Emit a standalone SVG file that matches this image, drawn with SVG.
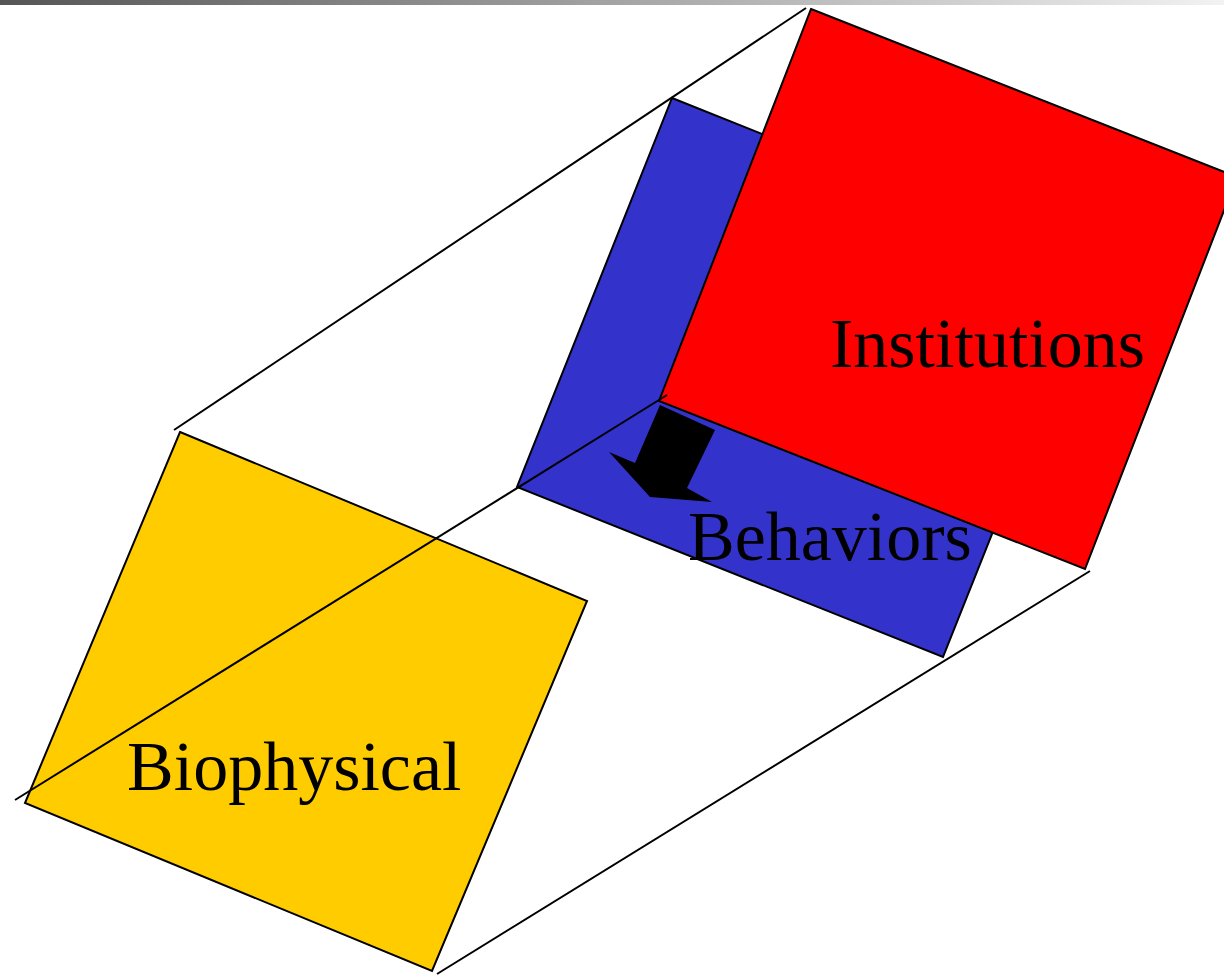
<svg xmlns="http://www.w3.org/2000/svg" width="1224" height="975" viewBox="0 0 1224 975">
<defs>
<linearGradient id="bar" x1="0" y1="0" x2="1" y2="0">
<stop offset="0" stop-color="#555555"/>
<stop offset="1" stop-color="#f2f2f2"/>
</linearGradient>
<style>
.shape{stroke:#000;stroke-width:2;stroke-linejoin:miter}
.ln{stroke:#000;stroke-width:2;fill:none}
.lbl{font-family:"Liberation Serif","Times New Roman",serif;font-size:70px;fill:#000}
</style>
</defs>
<rect x="0" y="0" width="1224" height="975" fill="#fff"/>
<rect x="0" y="0" width="1224" height="5" fill="url(#bar)"/>
<g id="biophysical">
<polygon class="shape" fill="#ffcc00" points="180,432 587,601 432,971 25,803"/>
</g>
<g id="behaviors">
<polygon class="shape" fill="#3333cc" points="672,98 1098,268 943,657 517,487"/>
</g>
<g id="institutions">
<polygon class="shape" fill="#ff0000" points="811,9 1237,177 1085,569 659,401"/>
</g>
<g id="connectors">
<line class="ln" x1="174" y1="430" x2="806" y2="8"/>
<line class="ln" x1="15" y1="800" x2="667" y2="395"/>
<line class="ln" x1="437" y1="974" x2="1090" y2="571"/>
<polygon fill="#000" points="660,405 715,430 687,488 712,502 650,497 609,452 635,463"/>
</g>
<g id="labels">
<text class="lbl" x="830" y="367">Institutions</text>
<text class="lbl" x="688" y="560">Behaviors</text>
<text class="lbl" x="127" y="790">Biophysical</text>
</g>
</svg>
